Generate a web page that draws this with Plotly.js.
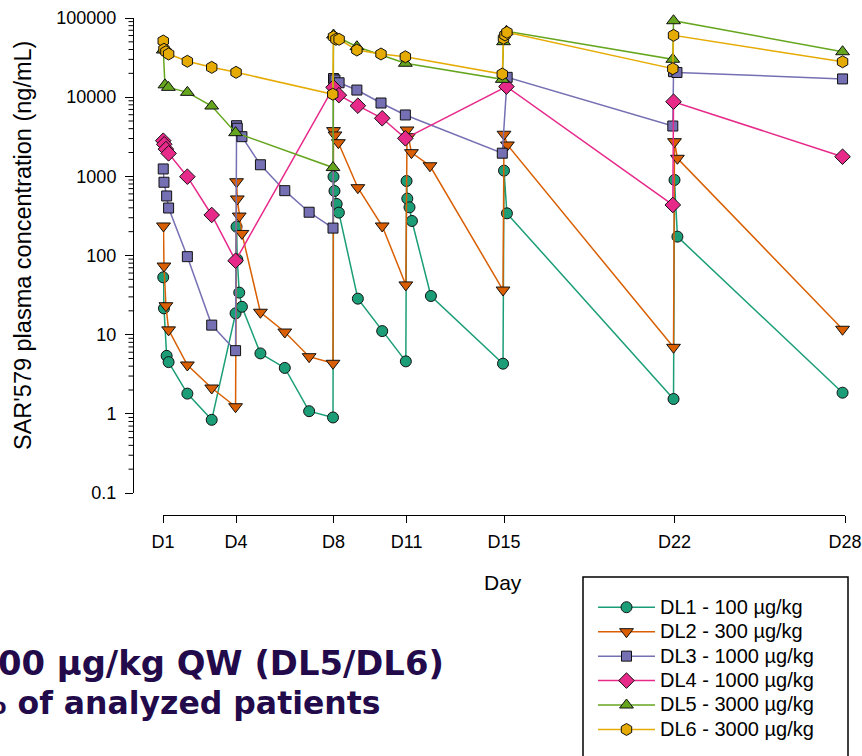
<!DOCTYPE html>
<html>
<head>
<meta charset="utf-8">
<script src="https://cdn.plot.ly/plotly-3.0.1.min.js"></script>
<style>
html,body{margin:0;padding:0;background:#fff;overflow:hidden;}
#chart{width:862px;height:756px;}
</style>
</head>
<body>
<div id="chart"></div>
<script>
// ---- data (days after first dose, SAR'579 concentration ng/mL) ----
const seriesNames = ["DL1 - 100 µg/kg","DL2 - 300 µg/kg","DL3 - 1000 µg/kg","DL4 - 1000 µg/kg","DL5 - 3000 µg/kg","DL6 - 3000 µg/kg"];

const dl1Days = [0.01,0.04,0.15,0.23,1,2,2.98,3.02,3.05,3.13,3.24,4,5,6,6.98,7.0,7.04,7.13,7.22,8,9,9.97,10.0,10.03,10.12,10.22,11,13.96,14.0,14.12,20.96,21.0,21.12,27.9];
const dl1Conc = [53,21.5,5.4,4.5,1.8,0.84,18.6,231,89,34,22.5,5.8,3.8,1.08,0.90,990,653,448,348,28.5,11.1,4.6,873,523,406,273,30.8,4.3,1180,341,1.54,900,173,1.85];

const dl2Days = [0.02,0.04,0.12,0.23,1,2,2.98,3.02,3.05,3.13,3.24,4,5,6,6.98,7.0,7.06,7.2,8,9,9.97,10.02,10.08,10.2,10.96,13.96,14.0,14.14,20.96,21.0,21.12,27.9];
const dl2Conc = [236,73.6,23.2,11.5,4.14,2.12,1.23,855,518,315,190,19.2,10.8,5.27,4.35,3780,3330,2660,719,236,42.5,3850,3170,1990,1360,36.6,3400,2490,6.92,2740,1690,11.7];

const dl3Days = [0.01,0.04,0.15,0.23,1,2,2.98,3.02,3.05,3.24,4,5,6,6.98,7.0,7.06,7.23,7.96,8.95,9.95,13.93,14.13,20.93,20.96,21.1,27.9];
const dl3Conc = [1240,842,565,398,96.7,13.2,6.28,4360,4050,3170,1400,659,352,222,17200,16500,15200,12300,8440,5960,1960,17800,4320,21000,20500,17000];

const dl4Days = [0.01,0.05,0.12,0.23,1,2,2.98,7.0,7.22,8,9,9.95,14.1,20.93,20.96,27.9];
const dl4Conc = [2820,2540,2210,1950,990,325,86,13300,10600,7800,5410,3020,13600,435,8770,1770];

const dl5Days = [0.01,0.08,0.22,1,2,2.98,6.98,7.0,7.96,9.95,13.93,13.98,14.1,20.93,20.96,27.9];
const dl5Conc = [39400,14300,13300,11500,7730,3560,1290,61000,43400,26800,16800,50200,68000,30100,92400,37500];

const dl6Days = [0.01,0.04,0.12,0.23,1,2,3,6.97,7.0,7.1,7.23,7.96,8.95,9.95,13.93,13.98,14.04,14.12,20.93,20.96,27.9];
const dl6Conc = [51200,40300,37500,35100,28400,23800,20600,10900,58000,53800,53800,39400,35100,32400,19600,55400,61000,65900,22900,60400,28000];

const xTickVals = [0,3,7,10,14,21,28];
const xTickText = ["D1","D4","D8","D11","D15","D22","D28"];
const yTickVals = [0.1,1,10,100,1000,10000,100000];
const yTickText = ["0.1","1","10","100","1000","10000","100000"];

const colors  = ["#1B9E77","#D95F02","#7570B3","#E7298A","#66A61E","#E6AB02"];
const symbols = ["circle","triangle-down","square","diamond","triangle-up","hexagon"];
const sizes   = [11,12,10,12,12,12];

const allDays = [dl1Days,dl2Days,dl3Days,dl4Days,dl5Days,dl6Days];
const allConc = [dl1Conc,dl2Conc,dl3Conc,dl4Conc,dl5Conc,dl6Conc];

// minor log ticks 2..9 within each decade of the axis
const yMinorVals = [];
for (let e = -1; e < 5; e++) for (let m = 2; m <= 9; m++) yMinorVals.push(m * Math.pow(10, e));

const W = 862, H = 756;
const px = v => v / W;
const py = v => 1 - v / H;
const FONT = "Liberation Sans, Arial, sans-serif";
const BOLD = "DejaVu Sans, Verdana, sans-serif";
const Y_AXIS_X = 133;

const traces = allDays.map((d, i) => ({
  type: "scatter",
  mode: "lines+markers",
  name: seriesNames[i],
  x: d,
  y: allConc[i],
  cliponaxis: false,
  line: {color: colors[i], width: 1.5},
  marker: {symbol: symbols[i], size: sizes[i], color: colors[i], line: {color: "#111", width: 1}}
}));

const minorTickShapes = yMinorVals.map(v => ({
  type: "line", xref: "paper", yref: "y",
  x0: px(Y_AXIS_X - 4.5), x1: px(Y_AXIS_X), y0: v, y1: v,
  line: {color: "#000", width: 1}
}));

const layout = {
  width: W, height: H,
  margin: {l: 0, r: 0, t: 0, b: 0, autoexpand: false},
  paper_bgcolor: "#fff",
  plot_bgcolor: "rgba(0,0,0,0)",
  showlegend: true,
  font: {family: FONT, color: "#000"},
  xaxis: {
    domain: [px(163), px(845)],
    anchor: "free",
    position: py(515),
    range: [0, 28],
    tickmode: "array",
    tickvals: xTickVals,
    ticktext: xTickText,
    showline: true, linecolor: "#000", linewidth: 1.3,
    ticks: "outside", ticklen: 7, tickcolor: "#000", tickwidth: 1,
    ticklabelstandoff: 3,
    showgrid: false, zeroline: false,
    tickfont: {family: FONT, size: 18, color: "#000"}
  },
  yaxis: {
    domain: [py(493), py(18)],
    anchor: "free",
    position: px(Y_AXIS_X),
    type: "log",
    range: [-1, 5],
    tickmode: "array",
    tickvals: yTickVals,
    ticktext: yTickText,
    showline: true, linecolor: "#000", linewidth: 1.3,
    ticks: "outside", ticklen: 8, tickcolor: "#000", tickwidth: 1,
    ticklabelstandoff: 5,
    showgrid: false, zeroline: false,
    tickfont: {family: FONT, size: 18, color: "#000"}
  },
  legend: {
    xref: "container", yref: "container",
    x: px(593), y: py(590), xanchor: "left", yanchor: "top",
    bgcolor: "rgba(0,0,0,0)", borderwidth: 0,
    font: {family: FONT, size: 16.5, color: "#000"},
    itemwidth: 57,
    tracegroupgap: 0
  },
  shapes: [{
    type: "rect", xref: "paper", yref: "paper",
    x0: px(583), x1: px(848), y0: py(790), y1: py(577),
    line: {color: "#000", width: 1.5}, fillcolor: "rgba(0,0,0,0)"
  }].concat(minorTickShapes),
  annotations: [
    {text: "SAR'579 plasma concentration (ng/mL)", xref: "paper", yref: "paper",
     x: px(23), y: py(246), textangle: -90, showarrow: false,
     xanchor: "center", yanchor: "middle", font: {family: FONT, size: 23.5, color: "#000"}},
    {text: "Day", xref: "paper", yref: "paper", x: px(503), y: py(582),
     showarrow: false, xanchor: "center", yanchor: "middle",
     font: {family: FONT, size: 21, color: "#000"}},
    {text: "00 µg/kg QW (DL5/DL6)", xref: "paper", yref: "paper", x: px(446), y: py(663),
     showarrow: false, xanchor: "right", yanchor: "middle",
     font: {family: BOLD, size: 33.8, color: "#230A4A", weight: "bold"}},
    {text: "% of analyzed patients", xref: "paper", yref: "paper", x: px(383), y: py(703),
     showarrow: false, xanchor: "right", yanchor: "middle",
     font: {family: BOLD, size: 31.5, color: "#230A4A", weight: "bold"}}
  ]
};

Plotly.newPlot("chart", traces, layout, {staticPlot: true, displayModeBar: false}).then(gd => {
  // legend rows keep the compact spacing of the original, text drawn at its original size
  gd.querySelectorAll(".legend [clip-path]").forEach(e => e.removeAttribute("clip-path"));
  gd.querySelectorAll(".legendtext").forEach(t => { t.style.fontSize = "20px"; });
});
</script>
</body>
</html>
